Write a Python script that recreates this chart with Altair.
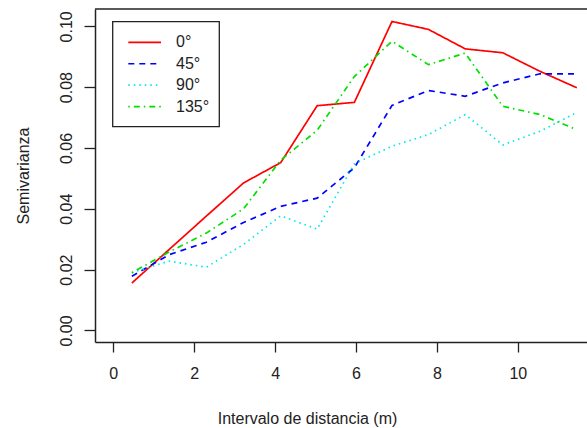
import altair as alt
import pandas as pd

# ---- data ----
lags = [0.46, 1.38, 2.30, 3.22, 4.14, 5.04, 5.96, 6.89, 7.79, 8.70, 9.63, 10.55, 11.46]
directions = ["0°", "45°", "90°", "135°"]
gamma_0 = [0.0156, 0.0266, 0.0376, 0.0485, 0.0552, 0.0739, 0.0750, 0.1016, 0.0990, 0.0926, 0.0913, 0.0852, 0.0798]
gamma_45 = [0.0178, 0.0249, 0.0290, 0.0355, 0.0408, 0.0435, 0.0535, 0.0740, 0.0789, 0.0770, 0.0814, 0.0844, 0.0844]
gamma_90 = [0.0190, 0.0228, 0.0208, 0.0283, 0.0377, 0.0333, 0.0548, 0.0606, 0.0644, 0.0710, 0.0610, 0.0655, 0.0717]
gamma_135 = [0.0190, 0.0258, 0.0320, 0.0400, 0.0560, 0.0658, 0.0835, 0.0951, 0.0874, 0.0912, 0.0737, 0.0710, 0.0660]
x_ticks = [0, 2, 4, 6, 8, 10]
y_ticks = [0.0, 0.02, 0.04, 0.06, 0.08, 0.10]

colors = ["#ff0000", "#0000ff", "#00e8e8", "#00e000"]
dashes = [[1, 0], [6, 5], [1.5, 4], [1.5, 4, 6, 4]]

rows = []
for d, vals in zip(directions, [gamma_0, gamma_45, gamma_90, gamma_135]):
    for x, v in zip(lags, vals):
        rows.append({"dist": x, "gamma": v, "dir": d})
df = pd.DataFrame(rows)

W, H = 492, 333
FONT = "Liberation Sans"
INK = "#222222"

color = alt.Color("dir:N", scale=alt.Scale(domain=directions, range=colors), legend=None)
dash = alt.StrokeDash("dir:N", scale=alt.Scale(domain=directions, range=dashes), legend=None)

x_enc = alt.X(
    "dist:Q",
    scale=alt.Scale(domain=[-0.452, 11.711], nice=False, zero=False),
    axis=alt.Axis(
        values=x_ticks, format="d", grid=False,
        domain=True, domainColor=INK, domainWidth=1.5,
        tickColor=INK, tickWidth=1.3, tickSize=10,
        labelFont=FONT, labelFontSize=16, labelColor=INK, labelPadding=13, labelFlush=False,
        title="Intervalo de distancia (m)", titleFont=FONT, titleFontSize=16,
        titleFontWeight="normal", titleColor=INK,
        titleX=212, titleY=81, titleAlign="center", titleBaseline="alphabetic",
    ),
)
y_enc = alt.Y(
    "gamma:Q",
    scale=alt.Scale(domain=[-0.0038, 0.1057], nice=False, zero=False),
    axis=alt.Axis(
        values=y_ticks, format=".2f", grid=False,
        domain=True, domainColor=INK, domainWidth=1.5,
        tickColor=INK, tickWidth=1.3, tickSize=11,
        labelFont=FONT, labelFontSize=16, labelColor=INK, labelPadding=10,
        labelAngle=270, labelAlign="center", labelBaseline="bottom", labelFlush=False,
        title="Semivarianza", titleFont=FONT, titleFontSize=16,
        titleFontWeight="normal", titleColor=INK, titleAngle=270,
        titleX=-67, titleY=166.5, titleAlign="center", titleBaseline="alphabetic",
    ),
)

lines = alt.Chart(df).mark_line(strokeWidth=1.7, clip=True).encode(
    x=x_enc, y=y_enc, color=color, strokeDash=dash
)

one = pd.DataFrame({"a": [0]})
top_rule = alt.Chart(one).mark_rule(color=INK, strokeWidth=1.5).encode(
    x=alt.value(0), x2=alt.value(W), y=alt.value(0)
)

leg_df = pd.DataFrame({"dir": directions})
leg_y = alt.Y(
    "dir:N",
    scale=alt.Scale(type="point", domain=directions, range=[33.3, 97.6], padding=0),
    axis=None,
)
leg_box = alt.Chart(one).mark_rect(fill="white", stroke=INK, strokeWidth=1.3).encode(
    x=alt.value(17.7), x2=alt.value(124.3), y=alt.value(12.7), y2=alt.value(117.7)
)
leg_lines = alt.Chart(leg_df).mark_rule(strokeWidth=1.7).encode(
    x=alt.value(33.3), x2=alt.value(66), y=leg_y, color=color, strokeDash=dash
)
leg_text = alt.Chart(leg_df).mark_text(
    align="left", baseline="middle", fontSize=16, font=FONT, color=INK
).encode(x=alt.value(81), y=leg_y, text="dir:N")

chart = (
    alt.layer(lines, top_rule, leg_box, leg_lines, leg_text)
    .resolve_scale(y="independent")
    .properties(
        width=W, height=H,
        padding={"left": 95, "top": 9, "right": 0, "bottom": 86},
        autosize="none", background="white",
    )
    .configure_view(stroke="transparent")
)

chart.save("out.html", embed_options={"renderer": "svg", "actions": False})
